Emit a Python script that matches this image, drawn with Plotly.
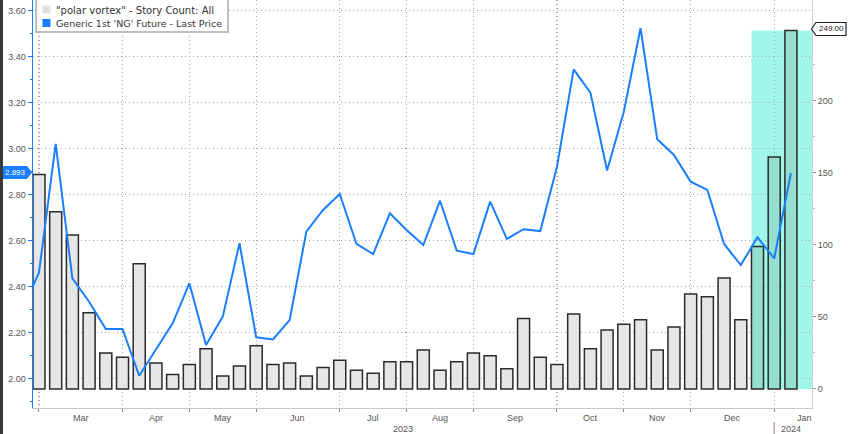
import plotly.graph_objects as go
import pandas as pd

# ---------------- data ----------------
week_start = "2023-03-03"
n_weeks = 46
story_count = [149, 123, 107, 53, 25, 22, 87, 18, 10, 17, 28, 9, 16, 30, 17,
               18, 9, 15, 20, 13, 11, 19, 19, 27, 13, 19, 25, 23, 14, 49,
               22, 17, 52, 28, 41, 45, 48, 27, 43, 66, 64, 77, 48, 99, 161, 249]
ng_price = [2.46, 3.02, 2.435, 2.334, 2.215, 2.215, 2.012, 2.126, 2.24, 2.414,
            2.146, 2.269, 2.588, 2.179, 2.17, 2.254, 2.638, 2.733, 2.802, 2.585,
            2.541, 2.718, 2.646, 2.58, 2.773, 2.556, 2.541, 2.769, 2.607, 2.649,
            2.641, 2.921, 3.344, 3.243, 2.904, 3.16, 3.523, 3.04, 2.972, 2.856,
            2.82, 2.585, 2.493, 2.614, 2.522, 2.893]
prior_date = "2023-02-24"
prior_price = 2.30
highlight_from = 43  # index of first highlighted week
month_ticks = ["2023-03-03", "2023-04-07", "2023-05-05", "2023-06-02", "2023-07-07",
               "2023-08-04", "2023-09-01", "2023-10-06", "2023-11-03", "2023-12-01",
               "2024-01-05"]
month_names = ["Mar", "Apr", "May", "Jun", "Jul", "Aug", "Sep", "Oct", "Nov", "Dec", "Jan"]
year_labels = [("2023", "2023-08-02 12:00"), ("2024", "2024-01-12")]
left_ticks = [2.00, 2.20, 2.40, 2.60, 2.80, 3.00, 3.20, 3.40, 3.60]
right_ticks = [0, 50, 100, 150, 200]
legend_names = ['"polar vortex" - Story Count: All', "Generic 1st 'NG' Future - Last Price"]

# ---------------- geometry helpers ----------------
W, H = 848, 434
L, R, T, B = 33, 36, 0, 26
PW, PH = W - L - R, H - T - B

def px(x):
    return (x - L) / PW

def py(y):
    return 1 - (y - T) / PH

dates = pd.date_range(week_start, periods=n_weeks, freq="7D")
x_range = [pd.Timestamp("2023-02-28 12:00"), pd.Timestamp("2024-01-20 20:00")]
day_ms = 86400000

BLUE = "#1a7fff"
GRID = "#a8a8a8"
DOT = "1px,3px"
TXT = "#555555"
FONT = "Liberation Sans"
LFONT = "DejaVu Sans"

bar_colors = ["#e6e6e6" if i < highlight_from else "#95dfd0" for i in range(n_weeks)]

fig = go.Figure()
fig.add_trace(go.Bar(
    x=dates, y=story_count, yaxis="y",
    width=0.72 * 7 * day_ms,
    marker=dict(color=bar_colors, line=dict(color="#2b2b2b", width=1.5)),
    showlegend=False, hoverinfo="skip",
))
fig.add_trace(go.Scatter(
    x=[pd.Timestamp(prior_date)] + list(dates), y=[prior_price] + ng_price,
    yaxis="y2", mode="lines", line=dict(color=BLUE, width=2),
    showlegend=False, hoverinfo="skip",
))

shapes = []
# highlight region
hl_x0 = dates[highlight_from] - pd.Timedelta(days=2.52)
shapes.append(dict(type="rect", xref="x", yref="y", x0=hl_x0, x1=x_range[1],
                   y0=0, y1=max(story_count), fillcolor="#a0f7e8",
                   line=dict(width=0), layer="below"))
# screenshot left border
shapes.append(dict(type="rect", xref="paper", yref="paper", x0=px(0), x1=px(3),
                   y0=py(H), y1=py(0), fillcolor="#3a3a3a", line=dict(width=0),
                   layer="above"))
# year separator
shapes.append(dict(type="line", xref="x", yref="paper",
                   x0=pd.Timestamp(month_ticks[-1]), x1=pd.Timestamp(month_ticks[-1]),
                   y0=py(422), y1=py(434), line=dict(color="#888888", width=1)))
# legend box
shapes.append(dict(type="rect", xref="paper", yref="paper", x0=px(36), x1=px(228),
                   y0=py(32), y1=py(-3), fillcolor="white",
                   line=dict(color="#aaaaaa", width=1.5), layer="above"))
shapes.append(dict(type="rect", xref="paper", yref="paper", x0=px(42.5), x1=px(50.5),
                   y0=py(13.5), y1=py(5.5), fillcolor="#e0e0e0",
                   line=dict(width=0), layer="above"))
shapes.append(dict(type="rect", xref="paper", yref="paper", x0=px(42.5), x1=px(50.5),
                   y0=py(27), y1=py(19), fillcolor=BLUE,
                   line=dict(width=0), layer="above"))
# last-value tags
lt = [(3, 166), (27, 166), (32, 172.5), (27, 179), (3, 179)]
shapes.append(dict(type="path", xref="paper", yref="paper",
                   path="M " + " L ".join(f"{px(a)},{py(b)}" for a, b in lt) + " Z",
                   fillcolor=BLUE, line=dict(width=0), layer="above"))
rt = [(811.5, 29), (816, 22.5), (846, 22.5), (846, 35.5), (816, 35.5)]
shapes.append(dict(type="path", xref="paper", yref="paper",
                   path="M " + " L ".join(f"{px(a)},{py(b)}" for a, b in rt) + " Z",
                   fillcolor="white", line=dict(color="#222222", width=1.2), layer="above"))

annotations = []
tick_ts = [pd.Timestamp(t) for t in month_ticks]
for i, name in enumerate(month_names):
    if i + 1 < len(tick_ts):
        mid = tick_ts[i] + (tick_ts[i + 1] - tick_ts[i]) / 2
    else:
        mid = pd.Timestamp("2024-01-17 12:00")
    annotations.append(dict(x=mid, y=py(418), xref="x", yref="paper", text=name,
                            showarrow=False, font=dict(family=FONT, size=9, color=TXT),
                            xanchor="center", yanchor="middle"))
for txt, d in year_labels:
    annotations.append(dict(x=pd.Timestamp(d), y=py(429), xref="x", yref="paper", text=txt,
                            showarrow=False, font=dict(family=FONT, size=9, color=TXT),
                            xanchor="center", yanchor="middle"))
annotations.append(dict(x=px(53.5), y=py(10), xref="paper", yref="paper", text=legend_names[0],
                        showarrow=False, font=dict(family=LFONT, size=10, color="#333333"),
                        xanchor="left", yanchor="middle"))
annotations.append(dict(x=px(53.5), y=py(23.3), xref="paper", yref="paper", text=legend_names[1],
                        showarrow=False, font=dict(family=LFONT, size=9.5, color="#333333"),
                        xanchor="left", yanchor="middle"))
annotations.append(dict(x=px(15.5), y=py(172.5), xref="paper", yref="paper",
                        text=f"{ng_price[-1]:.3f}", showarrow=False,
                        font=dict(family=FONT, size=8, color="white"),
                        xanchor="center", yanchor="middle"))
annotations.append(dict(x=px(831), y=py(29), xref="paper", yref="paper",
                        text=f"{story_count[-1]:.2f}", showarrow=False,
                        font=dict(family=FONT, size=8, color="#222222"),
                        xanchor="center", yanchor="middle"))

fig.update_layout(
    width=W, height=H,
    margin=dict(l=L, r=R, t=T, b=B, pad=0),
    paper_bgcolor="white", plot_bgcolor="white",
    font=dict(family=FONT, size=9, color=TXT),
    showlegend=False, bargap=0,
    xaxis=dict(type="date", range=x_range, tickvals=tick_ts, ticktext=[""] * len(tick_ts),
               ticks="outside", ticklen=3, tickcolor="#888888",
               showgrid=True, gridcolor=GRID, griddash=DOT, gridwidth=1.2,
               showline=True, linecolor="#c8c8c8", linewidth=1, zeroline=False),
    yaxis=dict(side="right", range=[-13.2, 270.1], tickvals=right_ticks,
               ticks="outside", ticklen=3, tickcolor="#999999",
               tickfont=dict(family=FONT, size=9, color=TXT),
               showgrid=False, showline=True, linecolor="#d0d0d0", zeroline=False,
               minor=dict(ticks="outside", ticklen=2, dtick=25, tickcolor="#bbbbbb")),
    yaxis2=dict(overlaying="y", side="left", range=[1.8717, 3.6457], tickvals=left_ticks,
                tickformat=".2f", ticks="outside", ticklen=4, tickcolor=BLUE, tickwidth=1.5,
                tickfont=dict(family=FONT, size=9, color=TXT),
                showgrid=True, gridcolor=GRID, griddash=DOT, gridwidth=1.2,
                showline=True, linecolor=BLUE, linewidth=1.5, zeroline=False,
                minor=dict(ticks="outside", ticklen=2, dtick=0.1, tickcolor=BLUE)),
    shapes=shapes, annotations=annotations,
)

fig.write_html("out.html", config={"displayModeBar": False, "staticPlot": True},
               post_script="document.body.style.margin='0';document.body.style.overflow='hidden';")
